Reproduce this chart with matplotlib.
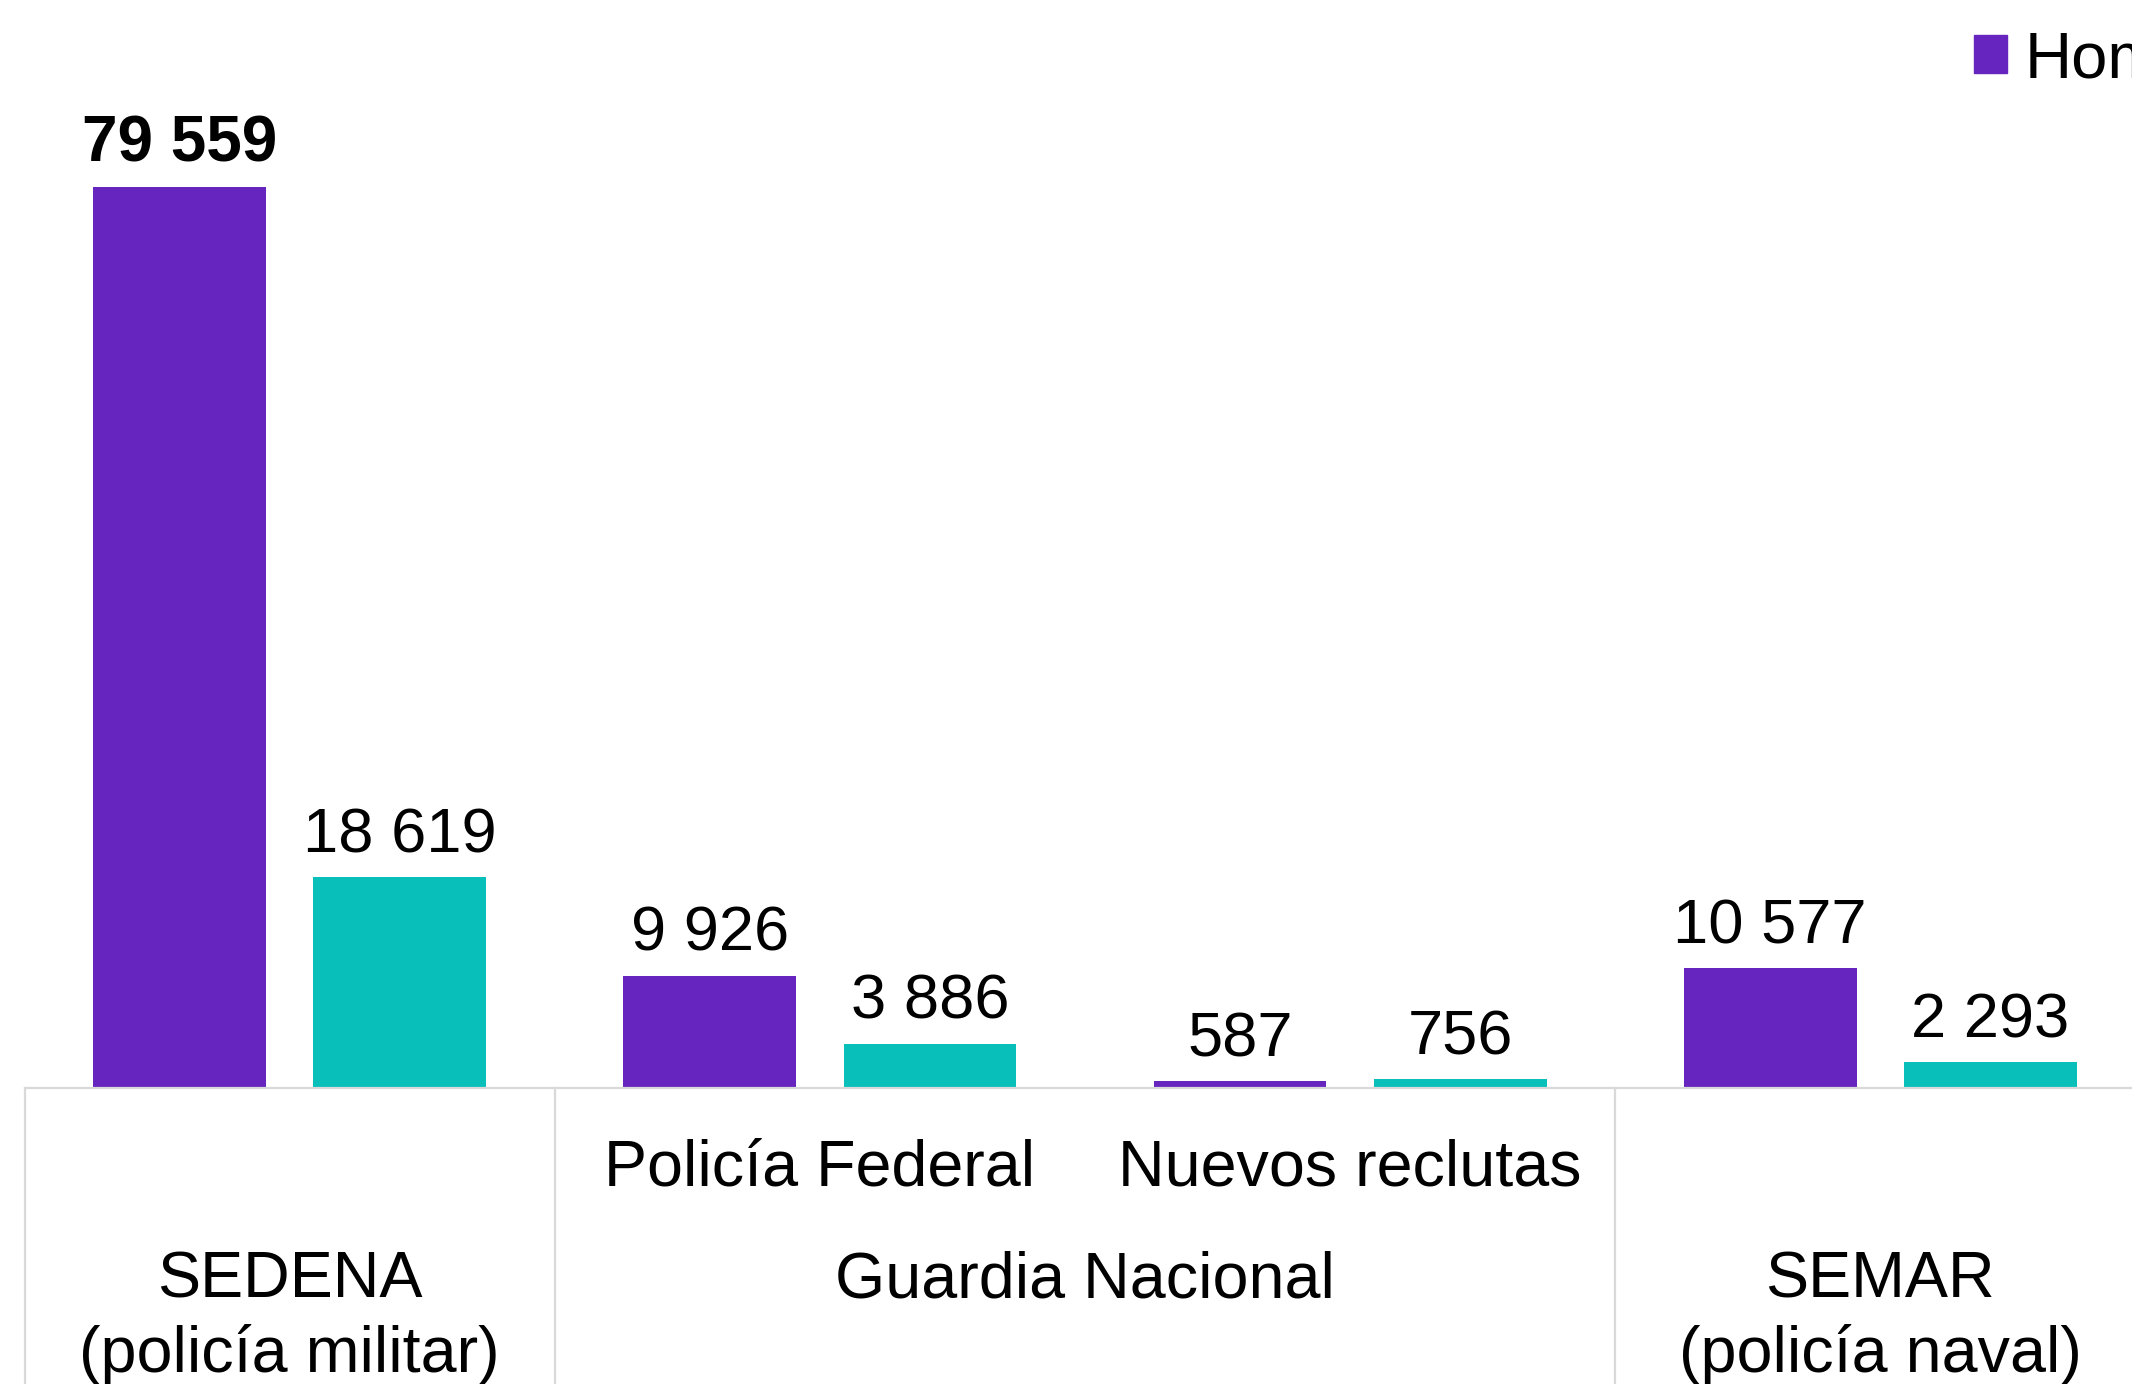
import numpy as np
import matplotlib.pyplot as plt
import matplotlib.transforms as mtransforms
from matplotlib.patches import Patch

plt.rcParams['font.family'] = ['Liberation Sans', 'DejaVu Sans']

# datos
subcategorias = ['', 'Policía Federal', 'Nuevos reclutas', '']
grupos = ['SEDENA\n(policía militar)', 'Guardia Nacional', 'SEMAR\n(policía naval)']
grupo_inicio = [0, 1, 3]
grupo_fin = [1, 3, 4]
hombres = [79559, 9926, 587, 10577]
mujeres = [18619, 3886, 756, 2293]
series = ['Hombres', 'Mujeres']

morado = '#6725BF'
turquesa = '#08BFBA'
gris = '#D9D9D9'

W, H = 2132, 1384
fig = plt.figure(figsize=(W / 100, H / 100), dpi=100)
base_px = 1088
ax = fig.add_axes([24.5 / W, (H - base_px) / H, 2121 / W, base_px / H])

x = np.arange(len(hombres)) + 0.5
ancho = 0.3256
desp = 0.2077
b1 = ax.bar(x - desp, hombres, ancho, color=morado, label=series[0])
b2 = ax.bar(x + desp, mujeres, ancho, color=turquesa, label=series[1])

ax.set_xlim(0, 4)
ax.set_ylim(0, 79559 * base_px / 901)
for s in ['top', 'left', 'right']:
    ax.spines[s].set_visible(False)
ax.spines['bottom'].set_color(gris)
ax.spines['bottom'].set_linewidth(1.6)
ax.set_xticks([])
ax.set_yticks([])

def fmt(v):
    return f'{v:,}'.replace(',', ' ')

for i, r in enumerate(b1):
    ax.annotate(fmt(hombres[i]), (r.get_x() + r.get_width() / 2, r.get_height()),
                xytext=(0, 18), textcoords='offset points', ha='center', va='baseline',
                fontsize=46 if i == 0 else 45.5, fontweight='bold' if i == 0 else 'normal')
for i, r in enumerate(b2):
    ax.annotate(fmt(mujeres[i]), (r.get_x() + r.get_width() / 2, r.get_height()),
                xytext=(0, 18), textcoords='offset points', ha='center', va='baseline',
                fontsize=45.5)

# ejes de categorias en dos niveles
trans = mtransforms.blended_transform_factory(ax.transData, ax.transAxes)
def ypx(px):
    # pixeles desde arriba de la figura -> fraccion de ejes
    return (base_px - px) / base_px

for i, s in enumerate(subcategorias):
    if s:
        ax.text(x[i], ypx(1186), s, transform=trans, ha='center', va='baseline', fontsize=46.5)

for g, a, b in zip(grupos, grupo_inicio, grupo_fin):
    for k, linea in enumerate(g.split('\n')):
        ax.text((a + b) / 2, ypx(1298 + 74 * k), linea, transform=trans,
                ha='center', va='baseline', fontsize=46.5)

for xv in sorted(set(grupo_inicio + grupo_fin)):
    ax.plot([xv, xv], [0, ypx(H + 5)], transform=trans, color=gris, lw=1.6, clip_on=False)

fig.legend(handles=[Patch(color=morado, label=series[0]), Patch(color=turquesa, label=series[1])],
           loc='upper left', bbox_to_anchor=(1974 / W, 1 - 30 / H), ncol=2, frameon=False,
           fontsize=47, handlelength=0.51, handleheight=0.51, handletextpad=0.26,
           borderpad=0, borderaxespad=0, columnspacing=1.0)

fig.savefig('out.png', dpi=100)
